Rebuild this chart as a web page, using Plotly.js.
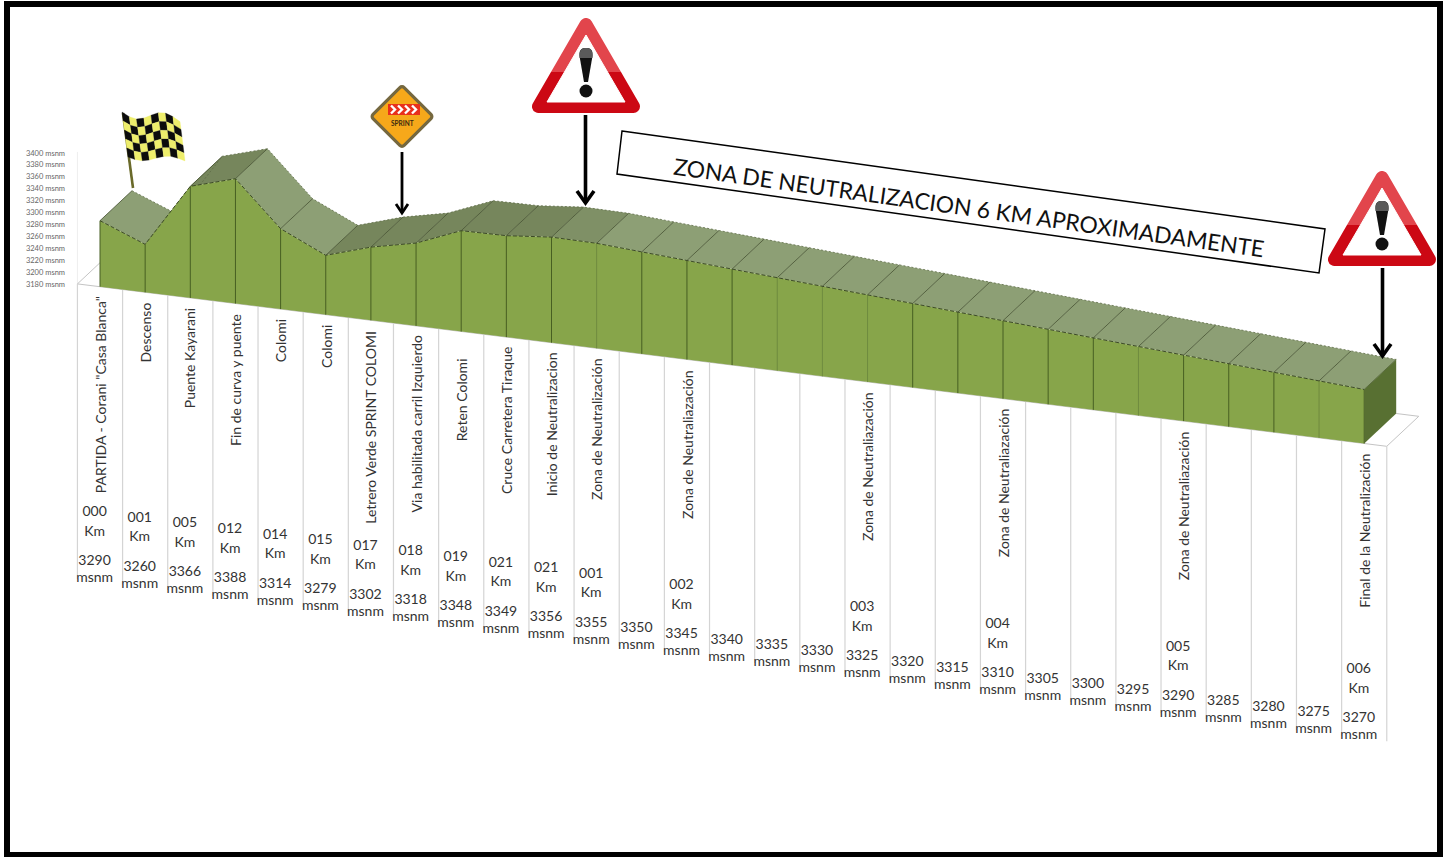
<!DOCTYPE html>
<html><head><meta charset="utf-8">
<script src="https://cdn.plot.ly/plotly-3.0.1.min.js"></script>
<style>html,body{margin:0;padding:0;background:#fff}#c{width:1450px;height:857px}</style>
</head><body><div id="c"></div>
<script>
const categories = ['PARTIDA - Corani "Casa Blanca"','Descenso','Puente Kayarani','Fin de curva y puente','Colomi','Colomi','Letrero Verde SPRINT COLOMI','Via habilitada carril Izquierdo','Reten Colomi','Cruce Carretera Tiraque','Inicio de Neutralizacion','Zona de Neutralización','','Zona de Neutraliazación','','','','Zona de Neutraliazación','','','Zona de Neutraliazación','','','','Zona de Neutraliazación','','','','Final de la Neutralización'];
const kmLabels = ['000','001','005','012','014','015','017','018','019','021','021','001','','002','','','','003','','','004','','','','005','','','','006'];
const elevations = [3290,3260,3366,3388,3314,3279,3302,3318,3348,3349,3356,3355,3350,3345,3340,3335,3330,3325,3320,3315,3310,3305,3300,3295,3290,3285,3280,3275,3270];
const axisTicks = [3180,3200,3220,3240,3260,3280,3300,3320,3340,3360,3380,3400];

const W=1450,H=857, STEPX=45.15, X0=100, BASEPX=286.7, BASEELEV=3180, PXM=0.6, DROP=5.6, DX=32, DY=30;
const FONT='Lato, "Open Sans", sans-serif';
const px=p=>p/W, py=p=>1-p/H;
// oblique projection of (index, elevation, depth) onto the axes
const pX=(i,d=0)=>i+d*DX/STEPX;
const pY=(i,e,d=0)=>e-i*DROP/PXM+d*DY/PXM;
const below=(i,p)=>pY(i,BASEELEV)-p/PXM;
const n=elevations.length, idx=elevations.map((_,i)=>i);
const traces=[];
const base={type:'scatter',hoverinfo:'skip',showlegend:false};

// wall + floor + drop lines
traces.push({...base,mode:'lines',x:[-0.5,-0.5],y:[pY(-0.5,BASEELEV),pY(-0.5,3400)],line:{color:'#eeeeee',width:1}});
traces.push({...base,mode:'lines',x:[pX(-0.5,1),pX(-0.5),n-0.5,pX(n-0.5,1),pX(n-1,1),null,pX(-0.5,1),pX(0,1)],
  y:[pY(-0.5,BASEELEV,1),pY(-0.5,BASEELEV),pY(n-0.5,BASEELEV),pY(n-0.5,BASEELEV,1),pY(n-1,BASEELEV,1),null,pY(-0.5,BASEELEV,1),pY(0,BASEELEV,1)],line:{color:'#c4c4c4',width:1}});
const dx=[],dy=[];
for(let k=0;k<=n;k++){const t=k-0.5;dx.push(t,t,null);dy.push(pY(t,BASEELEV),pY(t,BASEELEV)-295/PXM,null);}
traces.push({...base,mode:'lines',x:dx,y:dy,line:{color:'#d4d4d4',width:1.2}});

// top faces
for(let i=0;i<n-1;i++){
  const rise=elevations[i+1]-elevations[i];
  const col=rise>0?'#76865c':(rise>=-1?'#7f9066':'#8d9f75');
  traces.push({...base,mode:'lines',fill:'toself',fillcolor:col,line:{width:0,color:col},
    x:[pX(i),pX(i+1),pX(i+1,1),pX(i,1),pX(i)],
    y:[pY(i,elevations[i]),pY(i+1,elevations[i+1]),pY(i+1,elevations[i+1],1),pY(i,elevations[i],1),pY(i,elevations[i])]});
}
// separators and back edge of the top surface
const sx=[],sy=[];
idx.forEach(i=>{sx.push(pX(i),pX(i,1),null);sy.push(pY(i,elevations[i]),pY(i,elevations[i],1),null);});
traces.push({...base,mode:'lines',x:sx,y:sy,line:{color:'#3f4b2a',width:0.8}});
traces.push({...base,mode:'lines',x:idx.map(i=>pX(i,1)),y:idx.map(i=>pY(i,elevations[i],1)),line:{color:'#5e6c48',width:0.8,dash:'2px,2px'}});

// right side face
traces.push({...base,mode:'lines',fill:'toself',fillcolor:'#587032',line:{width:0,color:'#587032'},
  x:[pX(n-1),pX(n-1,1),pX(n-1,1),pX(n-1),pX(n-1)],
  y:[pY(n-1,elevations[n-1]),pY(n-1,elevations[n-1],1),pY(n-1,BASEELEV,1),pY(n-1,BASEELEV),pY(n-1,elevations[n-1])]});

// front face
traces.push({...base,mode:'lines',fill:'toself',fillcolor:'#87a54a',line:{width:0,color:'#87a54a'},
  x:[...idx,n-1,0,0],
  y:[...idx.map(i=>pY(i,elevations[i])),pY(n-1,BASEELEV),pY(0,BASEELEV),pY(0,elevations[0])]});
// vertical lines on the front face
const faint=new Set([11,15,16,17,23,27]);
const vs=[[],[]],vt=[[],[]];
idx.forEach(i=>{const k=faint.has(i)?1:0;vs[k].push(i,i,null);vt[k].push(pY(i,elevations[i]),pY(i,BASEELEV),null);});
traces.push({...base,mode:'lines',x:vs[0],y:vt[0],line:{color:'#475f22',width:1}});
traces.push({...base,mode:'lines',x:vs[1],y:vt[1],line:{color:'#6f8b3f',width:1}});
traces.push({...base,mode:'lines',x:idx,y:idx.map(i=>pY(i,elevations[i])),line:{color:'#3c4a26',width:1,dash:'4px,2px'}});

// km / elevation labels under the profile
const tx=idx.map(i=>i-0.12);
const textTrace=(text,gap)=>({...base,mode:'text',x:tx,y:idx.map(i=>below(i,gap)),text,textposition:'middle center',textfont:{family:FONT,size:14,color:'#333333'},cliponaxis:false});
traces.push(textTrace(kmLabels,226));
traces.push(textTrace(kmLabels.map(k=>k?'Km':''),245.5));
traces.push(textTrace(elevations.map(String),275));
traces.push(textTrace(elevations.map(()=>'msnm'),292));

// rotated category labels
const annotations=categories.map((c,i)=>({text:c,x:i,y:below(i,c==='Reten Colomi'?26:9),xref:'x',yref:'y',showarrow:false,textangle:-90,xanchor:'center',yanchor:'top',font:{family:FONT,size:14,color:'#333333'},borderpad:0})).filter(a=>a.text);
annotations.push({text:'ZONA DE NEUTRALIZACION 6 KM APROXIMADAMENTE',x:px(969),y:py(207),xref:'paper',yref:'paper',showarrow:false,textangle:8,xanchor:'center',yanchor:'middle',font:{family:FONT,size:22.8,color:'#111'}});
annotations.push({text:'<b>SPRINT</b>',x:px(402.5),y:py(124),xref:'paper',yref:'paper',showarrow:false,xanchor:'center',yanchor:'middle',font:{family:FONT,size:6.5,color:'#3a2a10'},borderpad:0});

// illustrations
const svg=s=>'data:image/svg+xml;charset=utf-8,'+encodeURIComponent(s);
const warning=svg(`<svg xmlns="http://www.w3.org/2000/svg" width="108" height="95" viewBox="0 0 108 95">
<defs><linearGradient id="g" x1="0" y1="0" x2="0" y2="1"><stop offset="0" stop-color="#e2454c"/><stop offset="0.58" stop-color="#e2454c"/><stop offset="0.58" stop-color="#cc0814"/><stop offset="1" stop-color="#cc0814"/></linearGradient></defs>
<path d="M54 6.5 L6.5 88.5 L101.5 88.5 Z" fill="url(#g)" stroke="url(#g)" stroke-width="13" stroke-linejoin="round"/>
<path d="M54 17 L15 84 L93 84 Z" fill="#fff" stroke="#fff" stroke-width="1" stroke-linejoin="round"/>
<path d="M47.5 38 C47 31 50 30 54 30 C58 30 61 31 60.5 38 L56 64 L52 64 Z" fill="#111"/>
<path d="M47.5 40 C47 31 50 30 54 30 C58 30 61 31 60.5 40 Z" fill="#5a5a5a"/>
<circle cx="54" cy="73" r="6.5" fill="#111"/></svg>`);
const sprint=svg(`<svg xmlns="http://www.w3.org/2000/svg" width="64" height="65" viewBox="0 0 64 65">
<rect x="10" y="10.5" width="44" height="44" rx="3" transform="rotate(45 32 32.5)" fill="#f6a81a" stroke="#75683f" stroke-width="3.2"/>
<rect x="18" y="20" width="32" height="11" fill="#e8301c"/>
${[21,28,35,42].map(x=>`<path d="M${x} 21.5 L${x+4} 25.5 L${x} 29.5" fill="none" stroke="#fff" stroke-width="2.4"/>`).join('')}
</svg>`);
let cells='';
const fp=(u,v)=>{
  const x=2+(60-2)*u+(8-2+(5-6)*u)*v, y=4+8*u+(45-5*u)*v+5*Math.sin(u*6.6)*(1-0.4*v);
  return (x).toFixed(1)+','+(y).toFixed(1);
};
const C=8,R=5;
for(let r=0;r<R;r++)for(let c=0;c<C;c++){
  const col=(r+c)%2?'#eeee6c':'#0c0c0c';
  cells+=`<polygon points="${fp(c/C,r/R)} ${fp((c+1)/C,r/R)} ${fp((c+1)/C,(r+1)/R)} ${fp(c/C,(r+1)/R)}" fill="${col}" stroke="${col}" stroke-width="0.3"/>`;
}
const flag=svg(`<svg xmlns="http://www.w3.org/2000/svg" width="68" height="82" viewBox="0 0 68 82"><path d="M3 5 L13 80" stroke="#6a6a2a" stroke-width="2.6"/>${cells}</svg>`);
const img=(source,x,y,w,h)=>({source,xref:'paper',yref:'paper',x:px(x),y:py(y),sizex:w/W,sizey:h/H,sizing:'stretch',xanchor:'left',yanchor:'top',layer:'above'});

// frame, note box and pointers
const poly=(pts)=>'M '+pts.map(p=>px(p[0])+','+py(p[1])).join(' L ');
const lineShape=(path,w,color='#000')=>({type:'path',xref:'paper',yref:'paper',path,line:{color,width:w},fillcolor:'rgba(0,0,0,0)',layer:'above'});
const arrow=(x,y0,y1,w,hx,hy)=>[lineShape(poly([[x,y0],[x,y1]]),w),lineShape(poly([[x-hx,y1-hy],[x,y1],[x+hx,y1-hy]]),w)];
const shapes=[
  {type:'rect',xref:'paper',yref:'paper',x0:px(7),x1:px(1440),y0:py(4),y1:py(855),line:{color:'#000',width:6},fillcolor:'rgba(0,0,0,0)',layer:'below'},
  {type:'path',xref:'paper',yref:'paper',path:poly([[622,131],[1325,229],[1319,273],[617,174]])+' Z',line:{color:'#000',width:1.5},fillcolor:'#fff',layer:'above'},
  ...arrow(585.5,115,203,3.6,8.5,12),
  ...arrow(1382.5,268,356,3.6,8.5,12),
  ...arrow(402,152,213,2.8,6,9)
];

const layout={width:W,height:H,margin:{l:0,r:0,t:0,b:0,pad:0},paper_bgcolor:'#fff',plot_bgcolor:'rgba(0,0,0,0)',showlegend:false,
  xaxis:{domain:[66/W,1],range:[(66-X0)/STEPX,(W-X0)/STEPX],visible:false,fixedrange:true},
  yaxis:{domain:[0,1],range:[BASEELEV-(H-BASEPX)/PXM,BASEELEV+BASEPX/PXM],showgrid:false,zeroline:false,showline:false,ticks:'',fixedrange:true,
    tickmode:'array',tickvals:axisTicks.map(e=>pY(-0.5,BASEELEV+(e-BASEELEV)*0.992)),ticktext:axisTicks.map(e=>e+' msnm'),tickfont:{family:FONT,size:7.5,color:'#666'}},
  shapes,annotations,
  images:[img(warning,532,18,108,95),img(warning,1328,171,108,95),img(sprint,370,84,64,65),img(flag,120,108,68,82)]};
Plotly.newPlot('c',traces,layout,{displayModeBar:false,staticPlot:true});
</script></body></html>
